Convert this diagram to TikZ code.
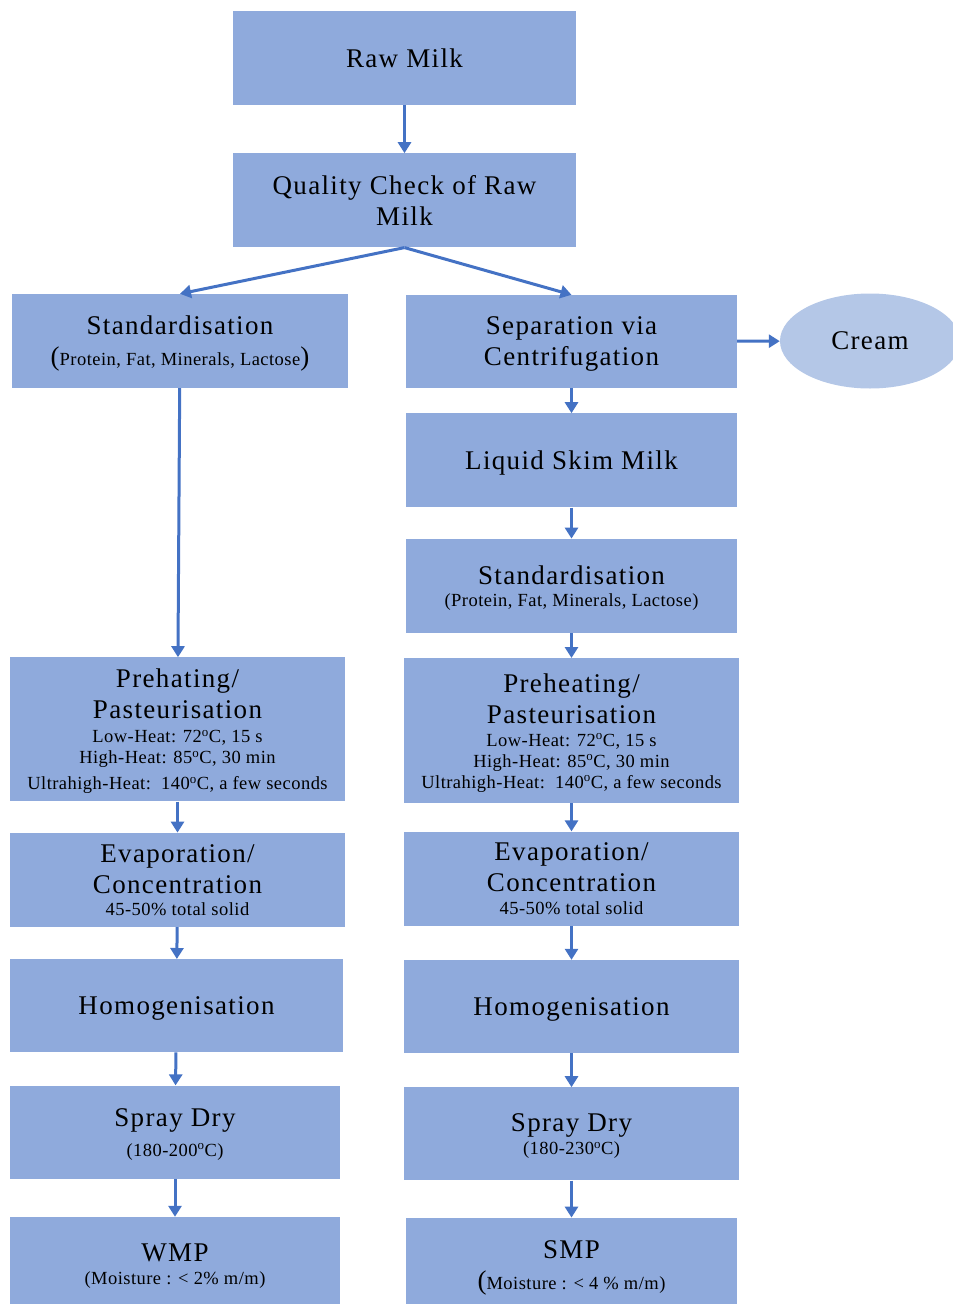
\documentclass[tikz,border=0pt]{standalone}
\usepackage{fontspec}
\setmainfont{Liberation Serif}
\newfontfamily\boxfont[LetterSpace=5]{Liberation Serif}
\newfontfamily\notefont[LetterSpace=2.5]{Liberation Serif}
\usetikzlibrary{arrows.meta,positioning,shapes.geometric}
\definecolor{boxblue}{RGB}{143,170,220}
\definecolor{creamblue}{RGB}{180,199,231}
\definecolor{flowblue}{RGB}{68,114,196}
\newcommand{\smalltxt}[1]{{\notefont\fontsize{18.5}{21}\selectfont #1}}
\newcommand{\degc}{\textsuperscript{o}C}

\begin{document}
\begin{tikzpicture}[x=1pt, y=-1pt, >={Triangle[width=13pt,length=11pt]},
    box/.style={fill=boxblue, inner sep=2pt, align=center, text depth=0pt, font=\boxfont\fontsize{27}{31}\selectfont},
    flow/.style={->, draw=flowblue, line width=3pt}]
  \useasboundingbox (0,0) rectangle (953,1304);
  % trunk
  \node[box, minimum width=343pt, minimum height=94pt] (raw) at (404.5,58) {Raw Milk};
  \node[box, minimum width=343pt, minimum height=94pt, below=48pt of raw] (qc) {Quality Check of Raw\\Milk};
  % whole milk branch
  \node[box, minimum width=336pt, minimum height=94pt] (stdL) at (180,341) {Standardisation\\[0pt](\smalltxt{Protein, Fat, Minerals, Lactose})};
  \node[box, minimum width=335pt, minimum height=144pt, below=269pt of stdL, xshift=-2.5pt] (preL) {Prehating/\\Pasteurisation\\[-7pt]
    \smalltxt{Low-Heat: 72\degc, 15 s}\\[-10pt]\smalltxt{High-Heat: 85\degc, 30 min}\\[-5pt]\smalltxt{Ultrahigh-Heat:\ \ 140\degc, a few seconds}};
  \node[box, minimum width=335pt, minimum height=94pt, below=31pt of preL] (evapL) {Evaporation/\\Concentration\\[-9pt]\smalltxt{45-50\% total solid}};
  \node[box, minimum width=333pt, minimum height=93pt, below=32pt of evapL, xshift=-1pt] (homL) {Homogenisation};
  \node[box, minimum width=330pt, minimum height=93pt, below=33pt of homL, xshift=-1.5pt] (sprayL) {Spray Dry\\[-1pt]\smalltxt{(180-200\degc)}};
  \node[box, minimum width=330pt, minimum height=94pt, below=38pt of sprayL] (wmp) {WMP\\[-8pt]\smalltxt{(Moisture : < 2\% m/m)}};
  % skim milk branch
  \node[box, minimum width=331pt, minimum height=93pt] (sep) at (571.5,341.5) {Separation via\\Centrifugation};
  \node[ellipse, fill=creamblue, minimum width=180pt, minimum height=95pt, font=\boxfont\fontsize{27}{31}\selectfont] (cream) at (870,341) {Cream};
  \node[box, minimum width=331pt, minimum height=94pt, below=25pt of sep] (skim) {Liquid Skim Milk};
  \node[box, minimum width=331pt, minimum height=94pt, below=31pt of skim] (stdR) {Standardisation\\[-9pt]\smalltxt{(Protein, Fat, Minerals, Lactose)}};
  \node[box, minimum width=335pt, minimum height=145pt, below=25pt of stdR] (preR) {Preheating/\\Pasteurisation\\[-8pt]
    \smalltxt{Low-Heat: 72\degc, 15 s}\\[-10pt]\smalltxt{High-Heat: 85\degc, 30 min}\\[-10pt]\smalltxt{Ultrahigh-Heat:\ \ 140\degc, a few seconds}};
  \node[box, minimum width=335pt, minimum height=94pt, below=28pt of preR] (evapR) {Evaporation/\\Concentration\\[-8pt]\smalltxt{45-50\% total solid}};
  \node[box, minimum width=335pt, minimum height=93pt, below=34pt of evapR] (homR) {Homogenisation};
  \node[box, minimum width=335pt, minimum height=93pt, below=34pt of homR] (sprayR) {Spray Dry\\[-8pt]\smalltxt{(180-230\degc)}};
  \node[box, minimum width=331pt, minimum height=94pt, below=37pt of sprayR] (smp) {SMP\\[0pt](\smalltxt{Moisture : < 4 \% m/m)}};
  % arrows
  \draw[flow] (raw) -- (qc);
  \draw[flow] (qc.south) -- (stdL.north);
  \draw[flow] (qc.south) -- (sep.north);
  \draw[flow] (stdL) -- (preL);
  \draw[flow] (preL) -- (evapL);
  \draw[flow] (evapL) -- (homL);
  \draw[flow] (homL) -- (sprayL);
  \draw[flow] (sprayL) -- (wmp);
  \draw[flow] (sep) -- (cream);
  \draw[flow] (sep) -- (skim);
  \draw[flow] (skim) -- (stdR);
  \draw[flow] (stdR) -- (preR);
  \draw[flow] (preR) -- (evapR);
  \draw[flow] (evapR) -- (homR);
  \draw[flow] (homR) -- (sprayR);
  \draw[flow] (sprayR) -- (smp);
\end{tikzpicture}
\end{document}
